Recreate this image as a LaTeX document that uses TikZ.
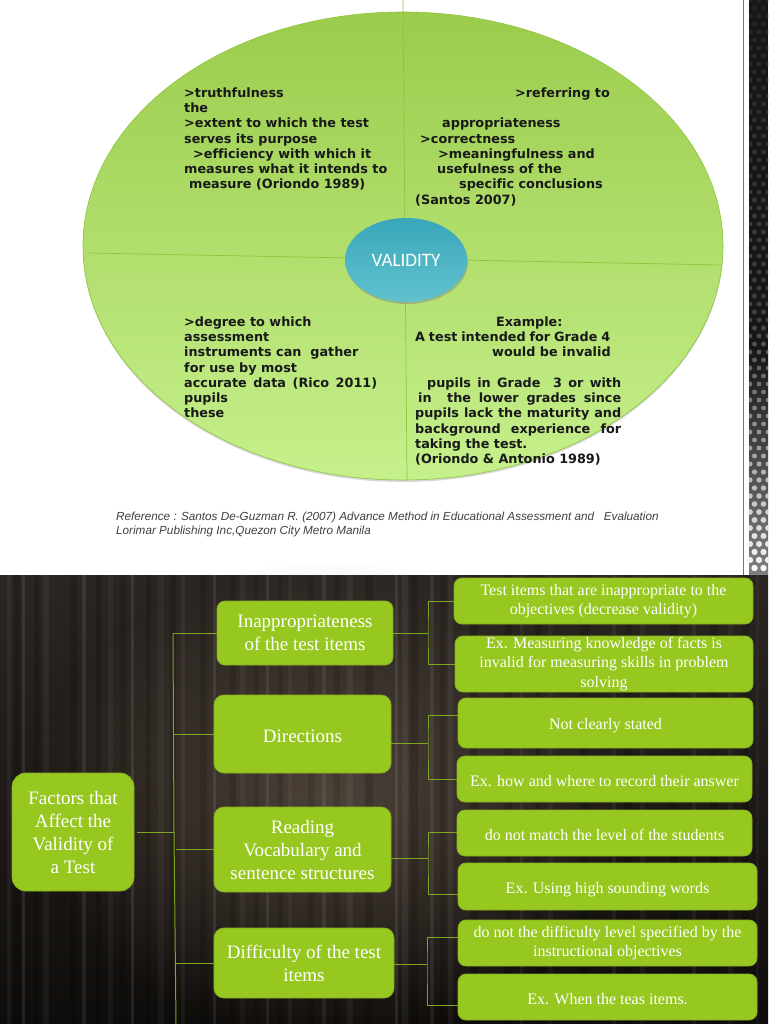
\documentclass[tikz,border=0pt]{standalone}
\usepackage{fontspec}
\setmainfont{Liberation Serif}
\newfontfamily\bodyfont[Ligatures=NoCommon]{DejaVu Sans}
\newfontfamily\notefont{Liberation Sans}
\newfontfamily\hubfont{Carlito}
\usetikzlibrary{shadows,fadings,shapes.geometric}

\definecolor{leafgreen}{HTML}{97C820}
\definecolor{edgegreen}{HTML}{86AE22}
\definecolor{linkgreen}{HTML}{7FA61E}
\definecolor{bowltop}{HTML}{9BCC4C}
\definecolor{bowlend}{HTML}{C6F08C}
\definecolor{bowlline}{HTML}{8CC63A}
\definecolor{hubtop}{HTML}{38A6BA}
\definecolor{hubend}{HTML}{62C2CE}
\definecolor{woodtop}{HTML}{2B2622}
\definecolor{woodmid}{HTML}{332B26}
\definecolor{woodend}{HTML}{0F0D0B}
\definecolor{woodglow}{HTML}{6E5E50}

\tikzfading[name=glowfade, inner color=transparent!40, outer color=transparent!100]

\tikzset{
	greenbox/.style={rectangle, rounded corners=8pt, fill=leafgreen, draw=edgegreen,
		line width=0.8pt, text=white, align=center, inner sep=0pt},
	dropped/.style={execute at begin node={\rule{0pt}{#1}}},
	branchbox/.style={greenbox, font=\fontsize{19}{23}\selectfont, dropped=18pt},
	leafbox/.style={greenbox, font=\fontsize{16}{19.4}\selectfont, dropped=15pt},
	link/.style={draw=linkgreen, line width=1pt},
	slicetext/.style={anchor=north west, inner sep=0pt, align=left, text=black!90,
		font=\bodyfont\bfseries\fontsize{12.8}{15.25}\selectfont},
}

\begin{document}
\begin{tikzpicture}[x=1pt, y=-1pt]
	\useasboundingbox (0,0) rectangle (768,1024);

	% top slide
	\fill [white] (0,0) rectangle (768,575);

	\fill [black!55] (742.5,0) rectangle (744,575);
	\fill [black!91] (749,0) rectangle (768,350);
	\shade [top color=black!91, bottom color=black!50] (749,350) rectangle (768,575);
	\begin{scope}
		\clip (749,0) rectangle (768,575);
		\foreach \r in {0,...,71} {
			\pgfmathsetmacro{\lvl}{\r < 40 ? 14+\r*0.3 : 26+(\r-40)*2.3}
			\pgfmathsetmacro{\dot}{\r < 55 ? 2.4 : 2.4+(\r-55)*0.05}
			\foreach \c in {0,1,2} {
				\fill [color=white!\lvl!black]
					({750+\c*9+mod(\r,2)*4.5}, {\r*8}) circle [radius=\dot];
			}
		}
	\end{scope}

	\shade [drop shadow={shadow xshift=0pt, shadow yshift=-2pt, opacity=0.3},
		top color=bowltop, bottom color=bowlend, draw=bowlline, line width=0.6pt]
		(403,246) ellipse [x radius=320, y radius=234];

	\draw [bowlline, line width=0.7pt] (403,0) -- (407,480);
	\draw [bowlline, line width=0.7pt] (88,253) -- (722,265);

	\node [ellipse, minimum width=122pt, minimum height=84pt, inner sep=0pt,
		top color=hubtop, bottom color=hubend, text=white,
		drop shadow={shadow xshift=1pt, shadow yshift=-2pt, opacity=0.45},
		font=\hubfont\fontsize{19}{22}\selectfont] (hub) at (406,260) {VALIDITY};

	\node [slicetext] (sliceA) at (184,87.5) {%
		>truthfulness\\
		the\\
		>extent to which the test\\
		serves its purpose\\
		\hspace*{9pt}>efficiency with which it\\
		measures what it intends to\\
		\hspace*{5pt}measure (Oriondo 1989)};

	\node [slicetext] (sliceB) at (415,87.5) {%
		\hspace*{100pt}>referring to\\
		\mbox{}\\
		\hspace*{27pt}appropriateness\\
		\hspace*{5pt}>correctness\\
		\hspace*{23pt}>meaningfulness and\\
		\hspace*{22pt}usefulness of the\\
		\hspace*{44pt}specific conclusions\\
		(Santos 2007)};

	\node [slicetext] (sliceC) at (184,316.5) {%
		>degree to which\\
		assessment\\
		instruments can \ gather\\
		for use by most\\
		\makebox[193pt][s]{accurate data (Rico 2011)}\\
		pupils\\
		these};

	\node [slicetext] (sliceD) at (415,316.5) {%
		\hspace*{81pt}Example:\\
		\makebox[195pt][s]{A test intended for Grade 4}\\
		\hspace*{77pt}would be invalid\\
		\mbox{}\\
		\hspace*{12pt}\makebox[194pt][s]{pupils in Grade \ 3 or with}\\
		\hspace*{3pt}\makebox[203pt][s]{in \ the lower grades since}\\
		\makebox[206pt][s]{pupils lack the maturity and}\\
		\makebox[206pt][s]{background \ experience \ for}\\
		taking the test.\\
		(Oriondo \& Antonio 1989)};

	\node [anchor=north west, inner sep=0pt, align=left, text=black!75,
		font=\notefont\itshape\fontsize{11.72}{14.6}\selectfont] (source) at (116,511.5) {%
		Reference : Santos De-Guzman R. (2007) Advance Method in Educational Assessment and \ \ Evaluation\\
		Lorimar Publishing Inc,Quezon City Metro Manila};

	% bottom slide
	\shade [top color=woodtop, middle color=woodmid, bottom color=woodend]
		(0,575) rectangle (768,1024);
	\fill [woodglow, path fading=glowfade]
		(330,800) ellipse [x radius=300, y radius=240];

	\foreach \x/\w/\o in {
		7/4/.05, 22/3/.09, 43/6/.05, 82/4/.08, 108/5/.04, 131/3/.09, 158/6/.04,
		181/4/.05, 213/3/.08, 240/5/.04, 266/3/.08, 288/4/.04, 322/4/.07, 347/6/.05,
		395/3/.09, 402/6/.05, 430/4/.07, 448/5/.05, 520/3/.05, 548/5/.04, 612/4/.05,
		640/5/.04, 692/4/.05, 728/5/.04, 756/3/.04
	} {
		\fill [white, opacity=\o] (\x,575) rectangle ++(\w,449);
	}
	\foreach \x/\w/\o in {
		14/6/.16, 34/5/.14, 70/7/.14, 96/5/.16, 120/6/.12, 146/5/.14, 170/6/.16,
		200/7/.12, 230/6/.14, 254/5/.12, 278/5/.12, 308/6/.12, 334/6/.12, 365/8/.14,
		410/8/.16, 440/5/.12, 470/8/.16, 505/7/.16, 535/6/.14, 580/9/.14, 625/7/.16,
		670/8/.14, 710/8/.16, 742/7/.16
	} {
		\fill [black, opacity=\o] (\x,575) rectangle ++(\w,449);
	}

	% boxes on the tree
	\node [greenbox, rounded corners=14pt, font=\fontsize{19}{23}\selectfont,
		minimum width=122pt, minimum height=118pt] (factors) at (73,832)
		{Factors that\\Affect the\\Validity of\\a Test};

	\node [branchbox, minimum width=176pt, minimum height=64pt] (inapt) at (305,633)
		{Inappropriateness\\of the test items};
	\node [branchbox, rounded corners=10pt, minimum width=177pt, minimum height=78pt] (direct) at (302.5,734)
		{Directions};
	\node [branchbox, dropped=14pt, rounded corners=10pt, minimum width=177pt, minimum height=85pt] (reading) at (302.5,849.5)
		{Reading\\Vocabulary and\\sentence structures};
	\node [branchbox, rounded corners=10pt, minimum width=180pt, minimum height=70pt] (diffic) at (304,963)
		{Difficulty of the test\\items};

	\node [leafbox, dropped=19pt, minimum width=299pt, minimum height=46pt] (leafAa) at (603.5,601)
		{Test items that are inappropriate to the\\objectives (decrease validity)};
	\node [leafbox, dropped=19pt, minimum width=298pt, minimum height=56pt] (leafAb) at (604,664)
		{Ex. Measuring knowledge of facts is\\invalid for measuring skills in problem\\solving};
	\node [leafbox, dropped=17pt, minimum width=295pt, minimum height=50pt] (leafBa) at (605.5,723)
		{Not clearly stated};
	\node [leafbox, dropped=13pt, minimum width=295pt, minimum height=46pt] (leafBb) at (604.5,779)
		{Ex. how and where to record their answer};
	\node [leafbox, dropped=11pt, minimum width=295pt, minimum height=46pt] (leafCa) at (604.5,833)
		{do not match the level of the students};
	\node [leafbox, dropped=17pt, minimum width=299pt, minimum height=47pt] (leafCb) at (607.5,886.5)
		{Ex. Using high sounding words};
	\node [leafbox, dropped=17pt, minimum width=299pt, minimum height=46pt] (leafDa) at (607.5,943)
		{do not the difficulty level specified by the\\instructional objectives};
	\node [leafbox, dropped=13pt, minimum width=299pt, minimum height=46pt] (leafDb) at (607.5,997)
		{Ex. When the teas items.};

	% connectors
	\coordinate (spinetop) at (173,633);
	\coordinate (spinemid) at (174,832);
	\coordinate (spineend) at (176,1024);
	\coordinate (forkA) at (428,633);
	\coordinate (forkB) at (428,743);
	\coordinate (forkC) at (428,858);
	\coordinate (forkD) at (427,964);

	\draw [link] (factors.east) ++(3,0) -- (spinemid);
	\draw [link] (spinetop) -- (spinemid) -- (spineend);
	\draw [link] (spinetop) -- (inapt.west);
	\draw [link] (spinemid |- direct.west) -- (direct.west);
	\draw [link] (spineend |- reading.west) -- (reading.west);
	\draw [link] (spineend |- diffic.west) -- (diffic.west);

	\draw [link] (inapt.east) -- (forkA);
	\draw [link] (leafAa.west) -| (forkA) |- (leafAb.west);
	\draw [link] ([yshift=-9pt]direct.east) -- (forkB);
	\draw [link] ([yshift=8pt]leafBa.west) -| (forkB) |- (leafBb.west);
	\draw [link] ([yshift=-8.5pt]reading.east) -- (forkC);
	\draw [link] ([yshift=1pt]leafCa.west) -| (forkC) |- ([yshift=-7.5pt]leafCb.west);
	\draw [link] ([yshift=-1pt]diffic.east) -- (forkD);
	\draw [link] ([yshift=6pt]leafDa.west) -| (forkD) |- ([yshift=-8pt]leafDb.west);
\end{tikzpicture}
\end{document}
